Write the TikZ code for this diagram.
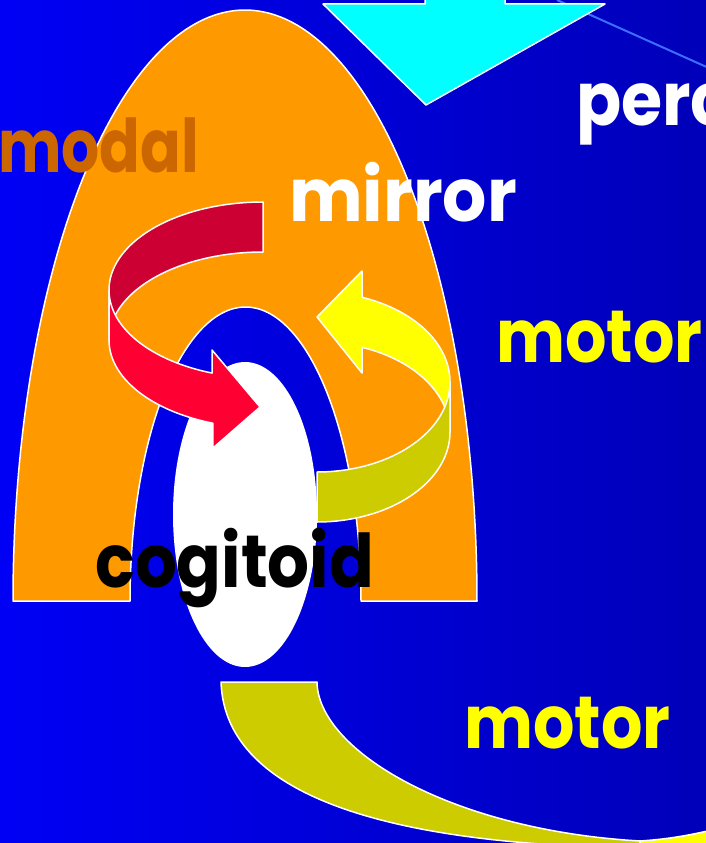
\documentclass[tikz,border=0pt]{standalone}
\usepackage{fontspec}
\newfontfamily\comic{Poppins}
\definecolor{bgL}{RGB}{0,0,245}
\definecolor{bgR}{RGB}{0,0,185}
\definecolor{archc}{RGB}{255,153,0}
\definecolor{darkred}{RGB}{204,0,51}
\definecolor{brightred}{RGB}{255,0,51}
\definecolor{yel}{RGB}{255,255,0}
\definecolor{olivec}{RGB}{204,204,0}
\definecolor{cyanc}{RGB}{0,255,255}
\definecolor{modalc}{RGB}{204,102,0}
\definecolor{thinc}{RGB}{60,110,255}
\begin{document}
\begin{tikzpicture}[x=1pt,y=-1pt,
  piece/.style={draw=white,line width=1.5pt,line join=round},
  lbl/.style={inner sep=0pt,anchor=base west,font=\comic\bfseries\fontsize{74}{80}\selectfont}]
\useasboundingbox (0,0) rectangle (706,843);
\clip (0,0) rectangle (706,843);
\shade[left color=bgL,right color=bgR] (0,0) rectangle (706,843);
% thin line
\draw[thinc,line width=2pt] (557,0) -- (720,73);
% cyan arrow
\filldraw[piece,fill=cyanc] (323,4) -- (425,4) -- (425,-10) -- (505,-10) -- (505,4) -- (605,4) -- (426,105) -- cycle;
% arch
\filldraw[piece,fill=archc] plot[domain=180:0,samples=120,smooth] ({245+232*cos(\x)},{601-591*sin(\x)})
  -- plot[domain=0:180,samples=120,smooth] ({245.5+115.5*cos(\x)},{601-294*sin(\x)}) -- cycle;
% cogitoid ellipse
\fill[white] (245,514.5) ellipse [x radius=72pt, y radius=152.5pt];
% red arrow, back
\filldraw[piece,fill=darkred] plot[domain=90:180,samples=60,smooth] ({263+154*cos(\x)},{290-88*sin(\x)})
  -- (109,340) -- plot[domain=180:90,samples=60,smooth] ({263+154*cos(\x)},{340-88*sin(\x)}) -- cycle;
% red arrow, front
\filldraw[piece,fill=brightred] plot[domain=180:250.7,samples=60,smooth] ({263+154*cos(\x)},{290-88*sin(\x)})
  -- (212,350) -- (260,407) -- (213,448)
  -- plot[domain=251:180,samples=60,smooth] ({263+154*cos(\x)},{340-88*sin(\x)}) -- cycle;
% yellow arrow, back
\filldraw[piece,fill=yel] plot[domain=70.2:0,samples=60,smooth] ({317+133*cos(\x)},{382-90*sin(\x)})
  -- plot[domain=0:70.2,samples=60,smooth] ({317+133*cos(\x)},{432-90*sin(\x)})
  -- (362,373) -- (317,317) -- (362,271) -- cycle;
% yellow arrow, front
\filldraw[piece,fill=olivec] plot[domain=0:-90,samples=60,smooth] ({317+133*cos(\x)},{382-90*sin(\x)})
  -- plot[domain=-90:0,samples=60,smooth] ({317+133*cos(\x)},{432-90*sin(\x)}) -- cycle;
% bottom tail
\filldraw[piece,fill=olivec] (221,682) -- (317,682) .. controls (318,750) and (450,830) .. (640,841)
  -- (640,848) .. controls (400,845) and (225,800) .. (221,682) -- cycle;
\filldraw[piece,fill=yel] (640,841) .. controls (670,839) and (690,835) .. (712,830) -- (720,860) -- (640,860) -- cycle;
% labels
\node[lbl,text=modalc] (modal) at (-2,172) {\scalebox{0.81}[1]{modal}};
\node[lbl,text=white] (mirror) at (289,221) {\scalebox{0.94}[1]{mirror}};
\node[lbl,text=white] (perc) at (576,125) {\scalebox{0.9}[1]{perc}};
\node[lbl,text=yel] (motorA) at (496,362) {\scalebox{0.88}[1]{motor}};
\node[lbl,text=yel] (motorB) at (464,748) {\scalebox{0.88}[1]{motor}};
\node[lbl,text=black] (cogitoid) at (95,587) {\scalebox{0.89}[1]{cogitoid}};
\end{tikzpicture}
\end{document}
